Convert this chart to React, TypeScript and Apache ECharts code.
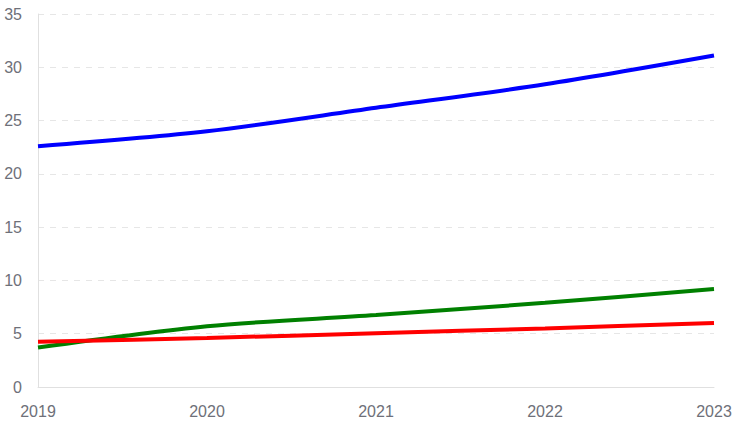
import React, { useEffect, useRef } from "react";
import * as echarts from "echarts";

const categories = ["2019", "2020", "2021", "2022", "2023"];
const blueValues = [22.6, 24.0, 26.2, 28.4, 31.1];
const greenValues = [3.7, 5.7, 6.75, 7.9, 9.2];
const redValues = [4.25, 4.6, 5.05, 5.5, 6.0];

export default function App() {
  const ref = useRef<HTMLDivElement>(null);
  useEffect(() => {
    if (!ref.current) return;
    const chart = echarts.init(ref.current, undefined, { renderer: "svg" });
    const line = (data: number[], color: string) => ({
      type: "line",
      data,
      smooth: 0.3,
      showSymbol: false,
      symbol: "none",
      lineStyle: { color, width: 4 },
      itemStyle: { color },
    });
    chart.setOption({
      animation: false,
      grid: { left: 38, right: 23, top: 14, bottom: 39 },
      xAxis: {
        type: "category",
        data: categories,
        boundaryGap: false,
        axisLine: { show: true, lineStyle: { color: "#e0e0e0", width: 1 } },
        axisTick: { show: false },
        axisLabel: { color: "#6e7079", fontSize: 16, margin: 16, fontFamily: "Liberation Sans, Arial, sans-serif" },
        splitLine: { show: false },
      },
      yAxis: {
        type: "value",
        min: 0,
        max: 35,
        interval: 5,
        axisLine: { show: true, lineStyle: { color: "#e0e0e0", width: 1 } },
        axisTick: { show: false },
        axisLabel: { color: "#6e7079", fontSize: 16, margin: 16, fontFamily: "Liberation Sans, Arial, sans-serif" },
        splitLine: { show: true, lineStyle: { color: "#e6e6e6", type: [6, 6], width: 1 } },
      },
      series: [
        line(blueValues, "#0000ff"),
        line(greenValues, "#008000"),
        line(redValues, "#ff0000"),
      ],
    });
    return () => chart.dispose();
  }, []);
  return <div ref={ref} style={{ width: 737, height: 426, position: "absolute", left: 0, top: 0 }} />;
}
